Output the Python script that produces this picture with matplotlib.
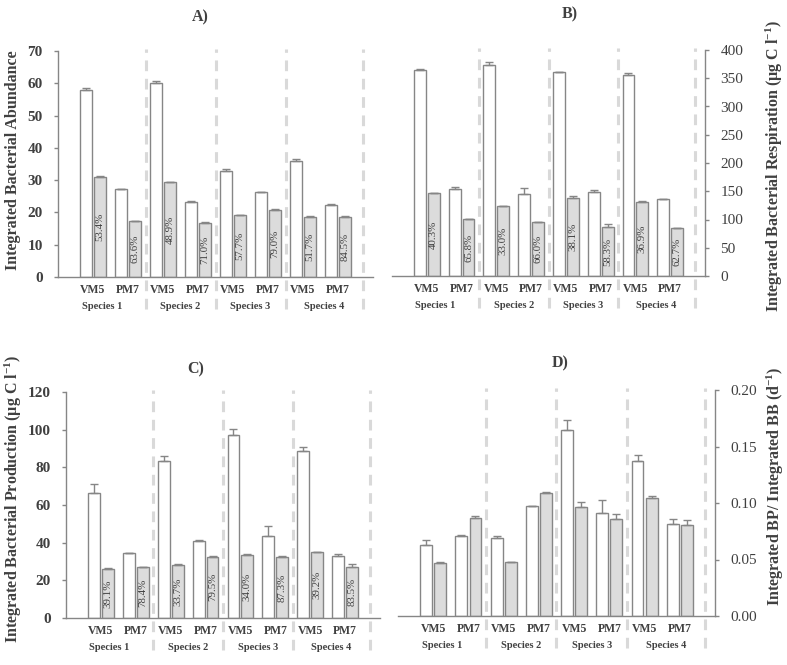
import numpy as np
import matplotlib
matplotlib.use("Agg")
import matplotlib.pyplot as plt
from matplotlib.ticker import FormatStrFormatter

plt.rcParams['font.family'] = ['Liberation Serif', 'DejaVu Serif']
plt.rcParams['mathtext.fontset'] = 'custom'
plt.rcParams['mathtext.rm'] = 'Liberation Serif:bold'
plt.rcParams['mathtext.bf'] = 'Liberation Serif:bold'
plt.rcParams['mathtext.default'] = 'bf'

# categories
strains = ["VM5", "PM7"] * 4
species = ["Species 1", "Species 2", "Species 3", "Species 4"]

# A) Integrated bacterial abundance
a_white = [57.8, 27.2, 60.0, 23.3, 32.9, 26.3, 35.9, 22.3]
a_white_err = [0.6, 0.2, 0.7, 0.2, 0.6, 0.1, 0.6, 0.3]
a_grey = [30.9, 17.4, 29.4, 16.8, 19.1, 20.8, 18.7, 18.7]
a_grey_err = [0.5, 0.1, 0.1, 0.1, 0.2, 0.4, 0.2, 0.2]
a_pct = ["53.4%", "63.6%", "48.9%", "71.0%", "57.7%", "79.0%", "51.7%", "84.5%"]

# B) Integrated bacterial respiration
b_white = [364.0, 153.4, 372.9, 145.1, 361.1, 148.1, 355.8, 135.7]
b_white_err = [3.0, 4.0, 5.3, 10.7, 0.8, 3.5, 3.5, 1.2]
b_grey = [146.3, 100.9, 123.3, 95.6, 137.5, 86.7, 131.0, 85.0]
b_grey_err = [1.2, 0.5, 0.3, 0.3, 4.7, 4.7, 2.3, 0.3]
b_pct = ["40.3%", "65.8%", "33.0%", "66.0%", "38.1%", "58.3%", "36.9%", "62.7%"]

# C) Integrated bacterial production
c_white = [66.2, 34.5, 83.1, 40.8, 97.1, 43.3, 88.5, 32.7]
c_white_err = [4.9, 0.2, 2.9, 0.4, 3.4, 5.4, 2.5, 1.3]
c_grey = [26.0, 27.1, 28.2, 32.6, 33.3, 32.2, 34.8, 27.3]
c_grey_err = [0.3, 0.2, 0.5, 0.1, 0.8, 0.9, 0.1, 1.2]
c_pct = ["39.1%", "78.4%", "33.7%", "79.5%", "34.0%", "87.3%", "39.2%", "83.5%"]

# D) BP / BB
d_white = [0.0632, 0.0706, 0.0688, 0.0971, 0.1644, 0.0915, 0.1374, 0.0815]
d_white_err = [0.0044, 0.0012, 0.0018, 0.0002, 0.0088, 0.0111, 0.0055, 0.0047]
d_grey = [0.0465, 0.0871, 0.0474, 0.1088, 0.0968, 0.0862, 0.1041, 0.0806]
d_grey_err = [0.0015, 0.0011, 0.0002, 0.0012, 0.0044, 0.0044, 0.0021, 0.0047]

TXT = '#404040'
EDGE = '#868686'
FILL = '#dcdcdc'
SEP = '#d9d9d9'


def draw_panel(ax, white, white_err, grey, grey_err, pct, ymax, ystep, side, fmt):
    x = np.arange(1, len(white) + 1)
    w = 0.34
    ax.bar(x - 0.2, white, w, color='white', edgecolor=EDGE, linewidth=1, zorder=2)
    ax.bar(x + 0.2, grey, w, color=FILL, edgecolor=EDGE, linewidth=1, zorder=2)
    ax.errorbar(x - 0.2, white, yerr=[np.zeros(len(x)), white_err], fmt='none',
                ecolor=EDGE, elinewidth=1, capsize=3, capthick=1, zorder=3)
    ax.errorbar(x + 0.2, grey, yerr=[np.zeros(len(x)), grey_err], fmt='none',
                ecolor=EDGE, elinewidth=1, capsize=3, capthick=1, zorder=3)
    if pct is not None:
        for xi, h, t in zip(x, grey, pct):
            ax.text(xi + 0.2, h / 2, t, rotation=90, ha='center', va='center',
                    fontsize=7.8, color=TXT, zorder=4)

    ax.set_xlim(0, 9)
    ax.set_ylim(0, ymax)
    ax.set_yticks(np.arange(0, ymax + ystep / 2, ystep))
    ax.yaxis.set_major_formatter(FormatStrFormatter(fmt))
    ax.set_xticks(x)
    ax.set_xticklabels(strains, fontsize=8.5, fontweight='bold', color=TXT)
    ax.tick_params(axis='x', length=0, pad=5)
    ax.tick_params(axis='y', direction='out', length=3, color=EDGE, width=1,
                   labelsize=11, labelcolor=TXT, pad=8)
    for lab in ax.get_yticklabels():
        lab.set_fontweight('bold')

    ax.spines['top'].set_visible(False)
    if side == 'left':
        ax.spines['right'].set_visible(False)
    else:
        ax.spines['left'].set_visible(False)
        ax.yaxis.tick_right()
    for s in ['left', 'right', 'bottom']:
        ax.spines[s].set_color(EDGE)
        ax.spines[s].set_linewidth(1)

    # group separators and species names
    bounds = [0, 2.5, 4.5, 6.5, 8.72]
    trans = ax.get_xaxis_transform()
    for b in bounds[1:]:
        ax.plot([b, b], [-0.14, 1.01], transform=trans, color=SEP, lw=2.2,
                ls=(0, (3.5, 2.5)), clip_on=False, zorder=1)
    for i, name in enumerate(species):
        ax.text((bounds[i] + bounds[i + 1]) / 2, -0.132, name, transform=trans,
                ha='center', va='center', fontsize=7.5, fontweight='bold', color=TXT)


fig = plt.figure(figsize=(7.87, 6.65), dpi=100)
W, H = 787, 665


def px_axes(left, top, right, bottom):
    return fig.add_axes([left / W, 1 - bottom / H, (right - left) / W, (bottom - top) / H])


axA = px_axes(58, 51, 373, 277)
axB = px_axes(392, 50, 705, 276)
axC = px_axes(66, 392, 380, 618)
axD = px_axes(398, 390, 715, 616)

draw_panel(axA, a_white, a_white_err, a_grey, a_grey_err, a_pct, 70, 10, 'left', '%d')
draw_panel(axB, b_white, b_white_err, b_grey, b_grey_err, b_pct, 400, 50, 'right', '%d')
draw_panel(axC, c_white, c_white_err, c_grey, c_grey_err, c_pct, 120, 20, 'left', '%d')
draw_panel(axD, d_white, d_white_err, d_grey, d_grey_err, None, 0.20, 0.05, 'right', '%.2f')

title_kw = dict(ha='center', va='center', fontsize=11.5, fontweight='bold', color=TXT)
fig.text(200 / W, 1 - 17 / H, "A)", **title_kw)
fig.text(570 / W, 1 - 14 / H, "B)", **title_kw)
fig.text(196 / W, 1 - 369 / H, "C)", **title_kw)
fig.text(560 / W, 1 - 363 / H, "D)", **title_kw)

lab_kw = dict(rotation=90, ha='center', va='center', fontsize=11.5, fontweight='bold', color=TXT)
fig.text(13 / W, 1 - 160 / H, "Integrated Bacterial Abundance", **lab_kw)
fig.text(774 / W, 1 - 166 / H, "Integrated Bacterial Respiration (µg C l$^{-1}$)", **lab_kw)
fig.text(13 / W, 1 - 499 / H, "Integrated Bacterial Production (µg C l$^{-1}$)", **lab_kw)
fig.text(775 / W, 1 - 486 / H, "Integrated BP/ Integrated BB (d$^{-1}$)", **lab_kw)

fig.savefig("out.png", dpi=100)
